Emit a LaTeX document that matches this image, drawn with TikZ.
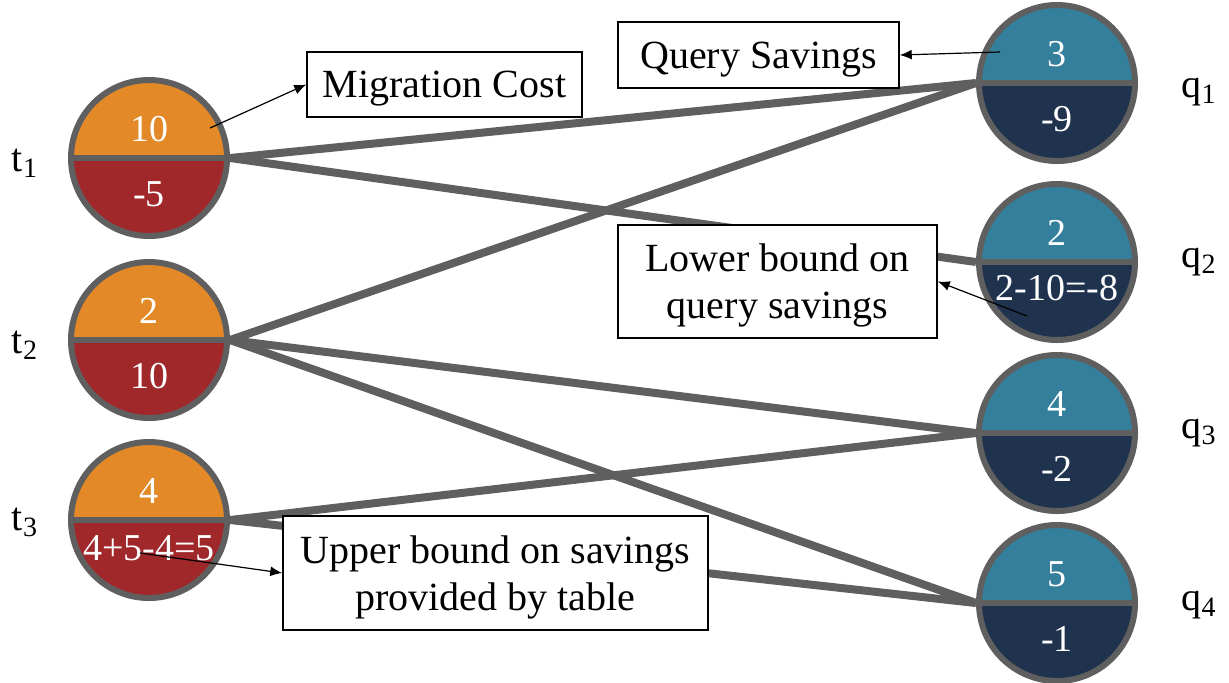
\documentclass[tikz,border=0pt]{standalone}
\usepackage{fontspec}
\setmainfont{Liberation Serif}
\usetikzlibrary{positioning,arrows.meta,backgrounds}

\definecolor{tblorange}{HTML}{E48928}
\definecolor{tblred}{HTML}{A0282A}
\definecolor{qryteal}{HTML}{347F9B}
\definecolor{qrynavy}{HTML}{1F334E}
\definecolor{edgegray}{HTML}{5F5F5F}

\begin{document}
\begin{tikzpicture}
    [x=0.5pt,y=-0.5pt,
     half/.style 2 args={circle,minimum size=78pt,inner sep=0pt,draw=edgegray,line width=3pt,
       path picture={
         \fill[#1] (path picture bounding box.north west) rectangle (path picture bounding box.east);
         \fill[#2] (path picture bounding box.west) rectangle (path picture bounding box.south east);
         \draw[edgegray,line width=3pt] (path picture bounding box.west) -- (path picture bounding box.east);}},
     tbl/.style={half={tblorange}{tblred}},
     qry/.style={half={qryteal}{qrynavy}},
     upnum/.style={text=white,inner sep=0pt,font=\fontsize{19}{21}\selectfont,yshift=14.5pt},
     lownum/.style={text=white,inner sep=0pt,font=\fontsize{19}{21}\selectfont,yshift=-18pt},
     idtag/.style={font=\fontsize{20}{24}\selectfont,inner sep=0pt},
     note/.style={draw,fill=white,line width=0.75pt,align=center,inner sep=0pt,text depth=0pt,
       font=\fontsize{20}{23.5}\selectfont},
     link/.style={edgegray,line width=4pt},
     pointer/.style={-{Latex[length=6pt,width=5pt]},line width=0.6pt}]
    \useasboundingbox (0,0) rectangle (1229,682);

    % tables
    \node[tbl] (t1) at (149,158) {};
    \node[tbl] (t2) at (149,340) {};
    \node[tbl] (t3) at (149,520) {};
    \node[upnum] (t1u) at (t1) {10};
    \node[lownum] (t1l) at (t1) {-5};
    \node[upnum] (t2u) at (t2) {2};
    \node[lownum] (t2l) at (t2) {10};
    \node[upnum] (t3u) at (t3) {4};
    \node[lownum,yshift=4pt] (t3l) at (t3) {4+5-4=5};
    \node[idtag] (t1n) at (25,163) {t\textsubscript{1}};
    \node[idtag] (t2n) at (25,345) {t\textsubscript{2}};
    \node[idtag] (t3n) at (25,522) {t\textsubscript{3}};

    % queries
    \node[qry] (q1) at (1057,83) {};
    \node[qry] (q2) at (1057,262) {};
    \node[qry] (q3) at (1057,433) {};
    \node[qry] (q4) at (1057,603) {};
    \node[upnum] (q1u) at (q1) {3};
    \node[lownum] (q1l) at (q1) {-9};
    \node[upnum] (q2u) at (q2) {2};
    \node[lownum,yshift=5pt] (q2l) at (q2) {2-10=-8};
    \node[upnum] (q3u) at (q3) {4};
    \node[lownum] (q3l) at (q3) {-2};
    \node[upnum] (q4u) at (q4) {5};
    \node[lownum] (q4l) at (q4) {-1};
    \node[idtag] (q1n) at (1199,92) {q\textsubscript{1}};
    \node[idtag] (q2n) at (1199,262) {q\textsubscript{2}};
    \node[idtag] (q3n) at (1199,433) {q\textsubscript{3}};
    \node[idtag] (q4n) at (1199,605) {q\textsubscript{4}};

    \begin{scope}[on background layer]
      \draw[link] (t1.east) -- (q1.west);
      \draw[link] (t1.east) -- (q2.west);
      \draw[link] (t2.east) -- (q1.west);
      \draw[link] (t2.east) -- (q3.west);
      \draw[link] (t2.east) -- (q4.west);
      \draw[link] (t3.east) -- (q3.west);
      \draw[link] (t3.east) -- (q4.west);
    \end{scope}

    % annotations
    \node[note,minimum width=137.5pt,minimum height=32.5pt] (cost) at (444.5,84.5) {Migration Cost};
    \node[note,minimum width=140.5pt,minimum height=33pt] (saving) at (758.5,55) {Query Savings};
    \node[note,minimum width=159.5pt,minimum height=56.5pt] (lower) at (777.5,281.5) {Lower bound on\\query savings};
    \node[note,minimum width=212.5pt,minimum height=57pt] (upper) at (495.5,573) {Upper bound on savings\\provided by table};

    \coordinate (costfoot) at (210,128);
    \coordinate (savingfoot) at (1000,52);
    \coordinate (lowerfoot) at (1027,316);
    \coordinate (upperfoot) at (140,553);
    \draw[pointer] (costfoot) -- (cost.west);
    \draw[pointer] (savingfoot) -- (saving.east);
    \draw[pointer] (lowerfoot) -- (lower.east);
    \draw[pointer] (upperfoot) -- (upper.west);
\end{tikzpicture}
\end{document}
